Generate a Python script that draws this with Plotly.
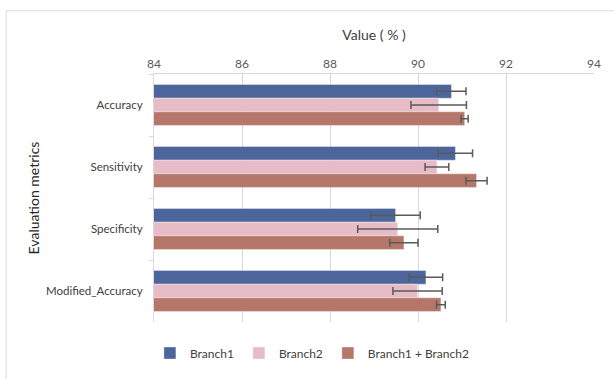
import plotly.graph_objects as go

categories = ["Accuracy", "Sensitivity", "Specificity", "Modified_Accuracy"]
series_names = ["Branch1", "Branch2", "Branch1 + Branch2"]
branch1 = [90.76, 90.85, 89.49, 90.18]
branch1_err = [0.33, 0.39, 0.56, 0.38]
branch2 = [90.47, 90.43, 89.54, 89.99]
branch2_err = [0.63, 0.27, 0.91, 0.56]
combined = [91.06, 91.33, 89.68, 90.52]
combined_err = [0.08, 0.24, 0.32, 0.10]
x_ticks = [84, 86, 88, 90, 92, 94]

colors = ["#4C659B", "#E7BCC6", "#B6776B"]
values = [branch1, branch2, combined]
errors = [branch1_err, branch2_err, combined_err]

fig = go.Figure()
for name, v, e, c in zip(series_names, values, errors, colors):
    fig.add_trace(go.Bar(
        y=categories, x=v, name=name, orientation="h",
        marker=dict(color=c, line=dict(color="rgba(255,255,255,0.35)", width=1)),
        error_x=dict(type="data", array=e, visible=True, color="#5A5A5A",
                     thickness=1.5, width=4),
    ))

font_family = "Lato, 'Open Sans', sans-serif"
fig.update_layout(
    width=614, height=379,
    margin=dict(l=154, r=20, t=74, b=51),
    paper_bgcolor="white", plot_bgcolor="white",
    barmode="group", bargap=0.34, bargroupgap=0,
    font=dict(family=font_family, color="#595959", size=12),
    showlegend=True,
    legend=dict(orientation="h", x=0.36, y=-0.125, xanchor="center", yanchor="middle",
                font=dict(size=12, color="#404040"), traceorder="normal",
                itemwidth=30),
    xaxis=dict(
        side="top", range=[84, 94], tickvals=x_ticks,
        showgrid=True, gridcolor="#D9D9D9", gridwidth=1,
        showline=True, linecolor="#D9D9D9", zeroline=False,
        ticks="", tickfont=dict(size=12, color="#595959"),
        title=dict(text="Value ( % )", font=dict(size=14, color="#404040"), standoff=12),
    ),
    yaxis=dict(
        autorange="reversed", showgrid=False, showline=True, linecolor="#D9D9D9",
        ticks="outside", tickson="boundaries", ticklen=4, tickcolor="#D9D9D9",
        ticklabelstandoff=8,
        tickfont=dict(size=11.5, color="#404040"),
        title=dict(text="Evaluation metrics", font=dict(size=14, color="#262626"), standoff=3),
    ),
    shapes=[
        dict(type="line", xref="paper", yref="paper", x0=-0.336, x1=1.1, y0=1.255, y1=1.255,
             line=dict(color="#D9D9D9", width=1)),
        dict(type="line", xref="paper", yref="paper", x0=-0.336, x1=-0.336, y0=1.255, y1=-0.3,
             line=dict(color="#D9D9D9", width=1)),
    ],
)

fig.write_html("out.html")
